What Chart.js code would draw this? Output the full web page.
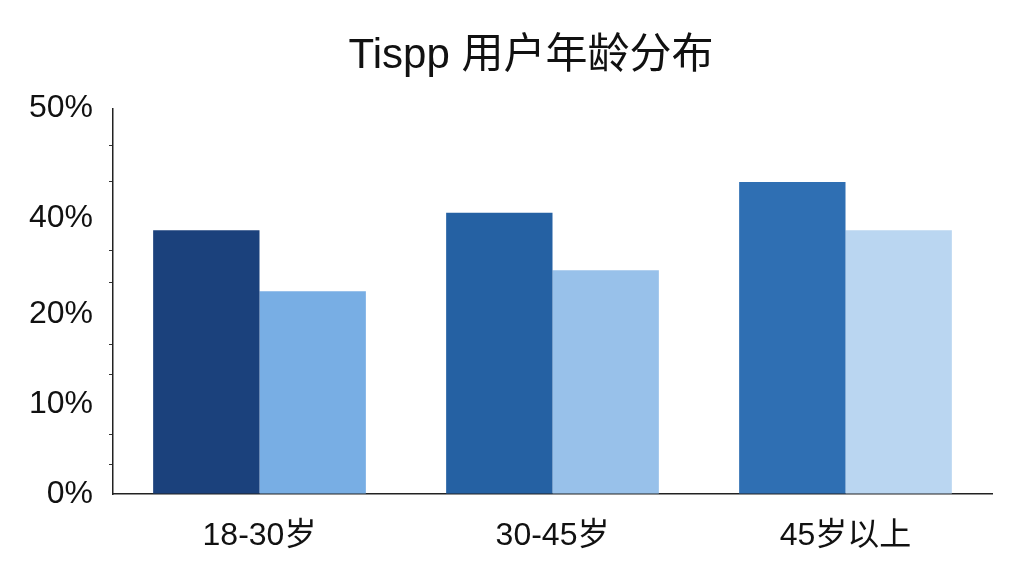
<!DOCTYPE html>
<html>
<head>
<meta charset="utf-8">
<title>Tispp 用户年龄分布</title>
<script src="https://cdn.jsdelivr.net/npm/chart.js@4/dist/chart.umd.min.js"></script>
<style>
  html, body { margin: 0; padding: 0; background: #fff; }
  canvas { display: block; }
</style>
</head>
<body>
<canvas id="ageChart" width="1024" height="576"></canvas>
<script>
// data
const categories = ['18-30岁', '30-45岁', '45岁以上'];
const seriesDark = [37.5, 40.5, 43.3];   // first bar of each group
const seriesLight = [24.8, 29.2, 37.5];  // second bar of each group
const tickValues = [0, 10, 20, 40, 50];  // labelled ticks, as printed on the axis

const darkColors = ['#1b417c', '#2561a3', '#2f6fb3'];
const lightColors = ['#78aee4', '#98c1ea', '#bad6f1'];

const FONT = "'Liberation Sans', 'Noto Sans CJK SC', sans-serif";

// the printed axis is not evenly spaced (30% is missing), so the value->pixel
// mapping is piecewise linear between the labelled ticks
class PiecewiseScale extends Chart.LinearScale {
  static id = 'piecewise';
  static defaults = Chart.LinearScale.defaults;

  buildTicks() {
    const marks = this.options.marks;
    const ticks = [];
    marks.forEach((v, i) => {
      ticks.push({ value: v, major: true });
      if (i < marks.length - 1) {
        // two small unlabelled ticks between labelled ones
        const step = (marks[i + 1] - v) / 3;
        ticks.push({ value: v + step, major: false });
        ticks.push({ value: v + 2 * step, major: false });
      }
    });
    return ticks;
  }

  toDecimal(value) {
    const m = this.options.marks, f = this.options.spots;
    if (value <= m[0]) return f[0];
    for (let i = 1; i < m.length; i++) {
      if (value <= m[i]) {
        return f[i - 1] + (value - m[i - 1]) / (m[i] - m[i - 1]) * (f[i] - f[i - 1]);
      }
    }
    return f[f.length - 1];
  }

  getPixelForValue(value) {
    return this.getPixelForDecimal(this.toDecimal(value));
  }

  getValueForPixel(pixel) {
    const d = this.getDecimalForPixel(pixel);
    const m = this.options.marks, f = this.options.spots;
    for (let i = 1; i < f.length; i++) {
      if (d <= f[i]) {
        return m[i - 1] + (d - f[i - 1]) / (f[i] - f[i - 1]) * (m[i] - m[i - 1]);
      }
    }
    return m[m.length - 1];
  }
}
Chart.register(PiecewiseScale);

// the reference title sits a bit right of the canvas centre
const titleShift = {
  id: 'titleShift',
  afterLayout(chart) {
    if (chart.titleBlock) chart.titleBlock.left = 70;
  }
};

const ctx = document.getElementById('ageChart').getContext('2d');

const data = {
  labels: categories,
  datasets: [
    {
      label: '深色',
      data: seriesDark,
      backgroundColor: darkColors,
      borderWidth: 0
    },
    {
      label: '浅色',
      data: seriesLight,
      backgroundColor: lightColors,
      borderWidth: 0
    }
  ]
};

const config = {
  type: 'bar',
  data: data,
  plugins: [titleShift],
  options: {
    responsive: false,
    animation: false,
    devicePixelRatio: 1,
    categoryPercentage: 0.726,
    barPercentage: 1,
    layout: { padding: { left: 20, right: 32, top: 0, bottom: 21 } },
    plugins: {
      legend: { display: false },
      tooltip: { enabled: false },
      title: {
        display: true,
        text: 'Tispp 用户年龄分布',
        color: '#111',
        font: { family: FONT, size: 42, weight: 'normal' },
        padding: { top: 31, bottom: 27 }
      }
    },
    scales: {
      x: {
        grid: { display: false, drawTicks: false },
        border: { display: true, color: '#222', width: 1.5 },
        ticks: {
          color: '#111',
          padding: 23,
          font: { family: FONT, size: 32 }
        },
        afterFit: s => { s.height = 576 - 494 - 21; }
      },
      y: {
        type: 'piecewise',
        min: 0,
        max: 50,
        marks: tickValues,
        spots: [0, 0.233, 0.466, 0.715, 1],
        grid: {
          drawOnChartArea: false,
          drawTicks: true,
          tickLength: 4,
          color: c => (c.tick && c.tick.major) ? 'rgba(0,0,0,0)' : '#333'
        },
        border: { display: true, color: '#222', width: 1.5 },
        ticks: {
          color: '#111',
          padding: 16,
          autoSkip: false,
          font: { family: FONT, size: 32 },
          callback: function (value, index, ticks) {
            return ticks[index].major ? value + '%' : '';
          }
        },
        afterFit: s => { s.width = 93; }
      }
    }
  }
};

const ageChart = new Chart(ctx, config);
</script>
</body>
</html>
